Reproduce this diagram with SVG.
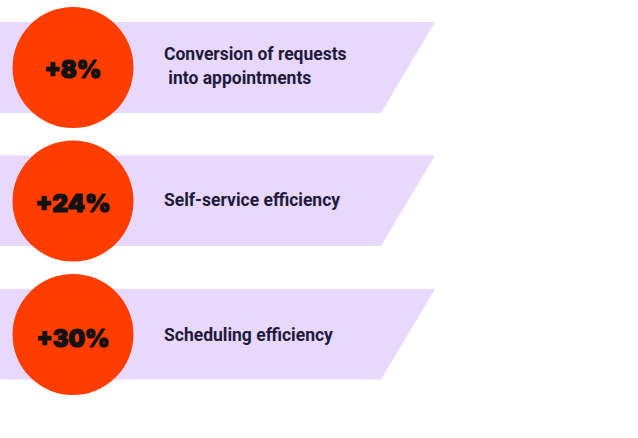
<svg xmlns="http://www.w3.org/2000/svg" width="638" height="438" viewBox="0 0 638 438">
<style>
.band{fill:#E7D8FC}
.dot{fill:#FF3D00}
.pct{font-family:Inter,"Liberation Sans",sans-serif;font-weight:900;font-size:24.5px;fill:#111111;stroke:#111111;stroke-width:1.2px;stroke-linejoin:round;text-anchor:middle}
.lbl{font-family:Roboto,"Liberation Sans",sans-serif;font-weight:700;font-size:17.5px;fill:#1E1A3C}
</style>
<rect width="638" height="438" fill="#FFFFFF"/>
<g id="row1">
<polygon class="band" points="0,22 435,22 381,113 0,113"/>
<circle class="dot" cx="73" cy="67.5" r="60.5"/>
<text class="pct" x="73" y="77.5" textLength="57" lengthAdjust="spacingAndGlyphs">+8%</text>
<text class="lbl" x="164" y="60">Conversion of requests</text>
<text class="lbl" x="164" y="83.5" xml:space="preserve"> into appointments</text>
</g>
<g id="row2">
<polygon class="band" points="0,155.5 435,155.5 381,246 0,246"/>
<circle class="dot" cx="73" cy="201" r="60.5"/>
<text class="pct" x="73" y="211.5" textLength="75" lengthAdjust="spacingAndGlyphs">+24%</text>
<text class="lbl" x="164" y="205.5">Self-service efficiency</text>
</g>
<g id="row3">
<polygon class="band" points="0,289 435,289 381,379.5 0,379.5"/>
<circle class="dot" cx="73" cy="334.5" r="60.5"/>
<text class="pct" x="73" y="346.5" textLength="73" lengthAdjust="spacingAndGlyphs">+30%</text>
<text class="lbl" x="164" y="341">Scheduling efficiency</text>
</g>
<g id="connectors"/>
</svg>
